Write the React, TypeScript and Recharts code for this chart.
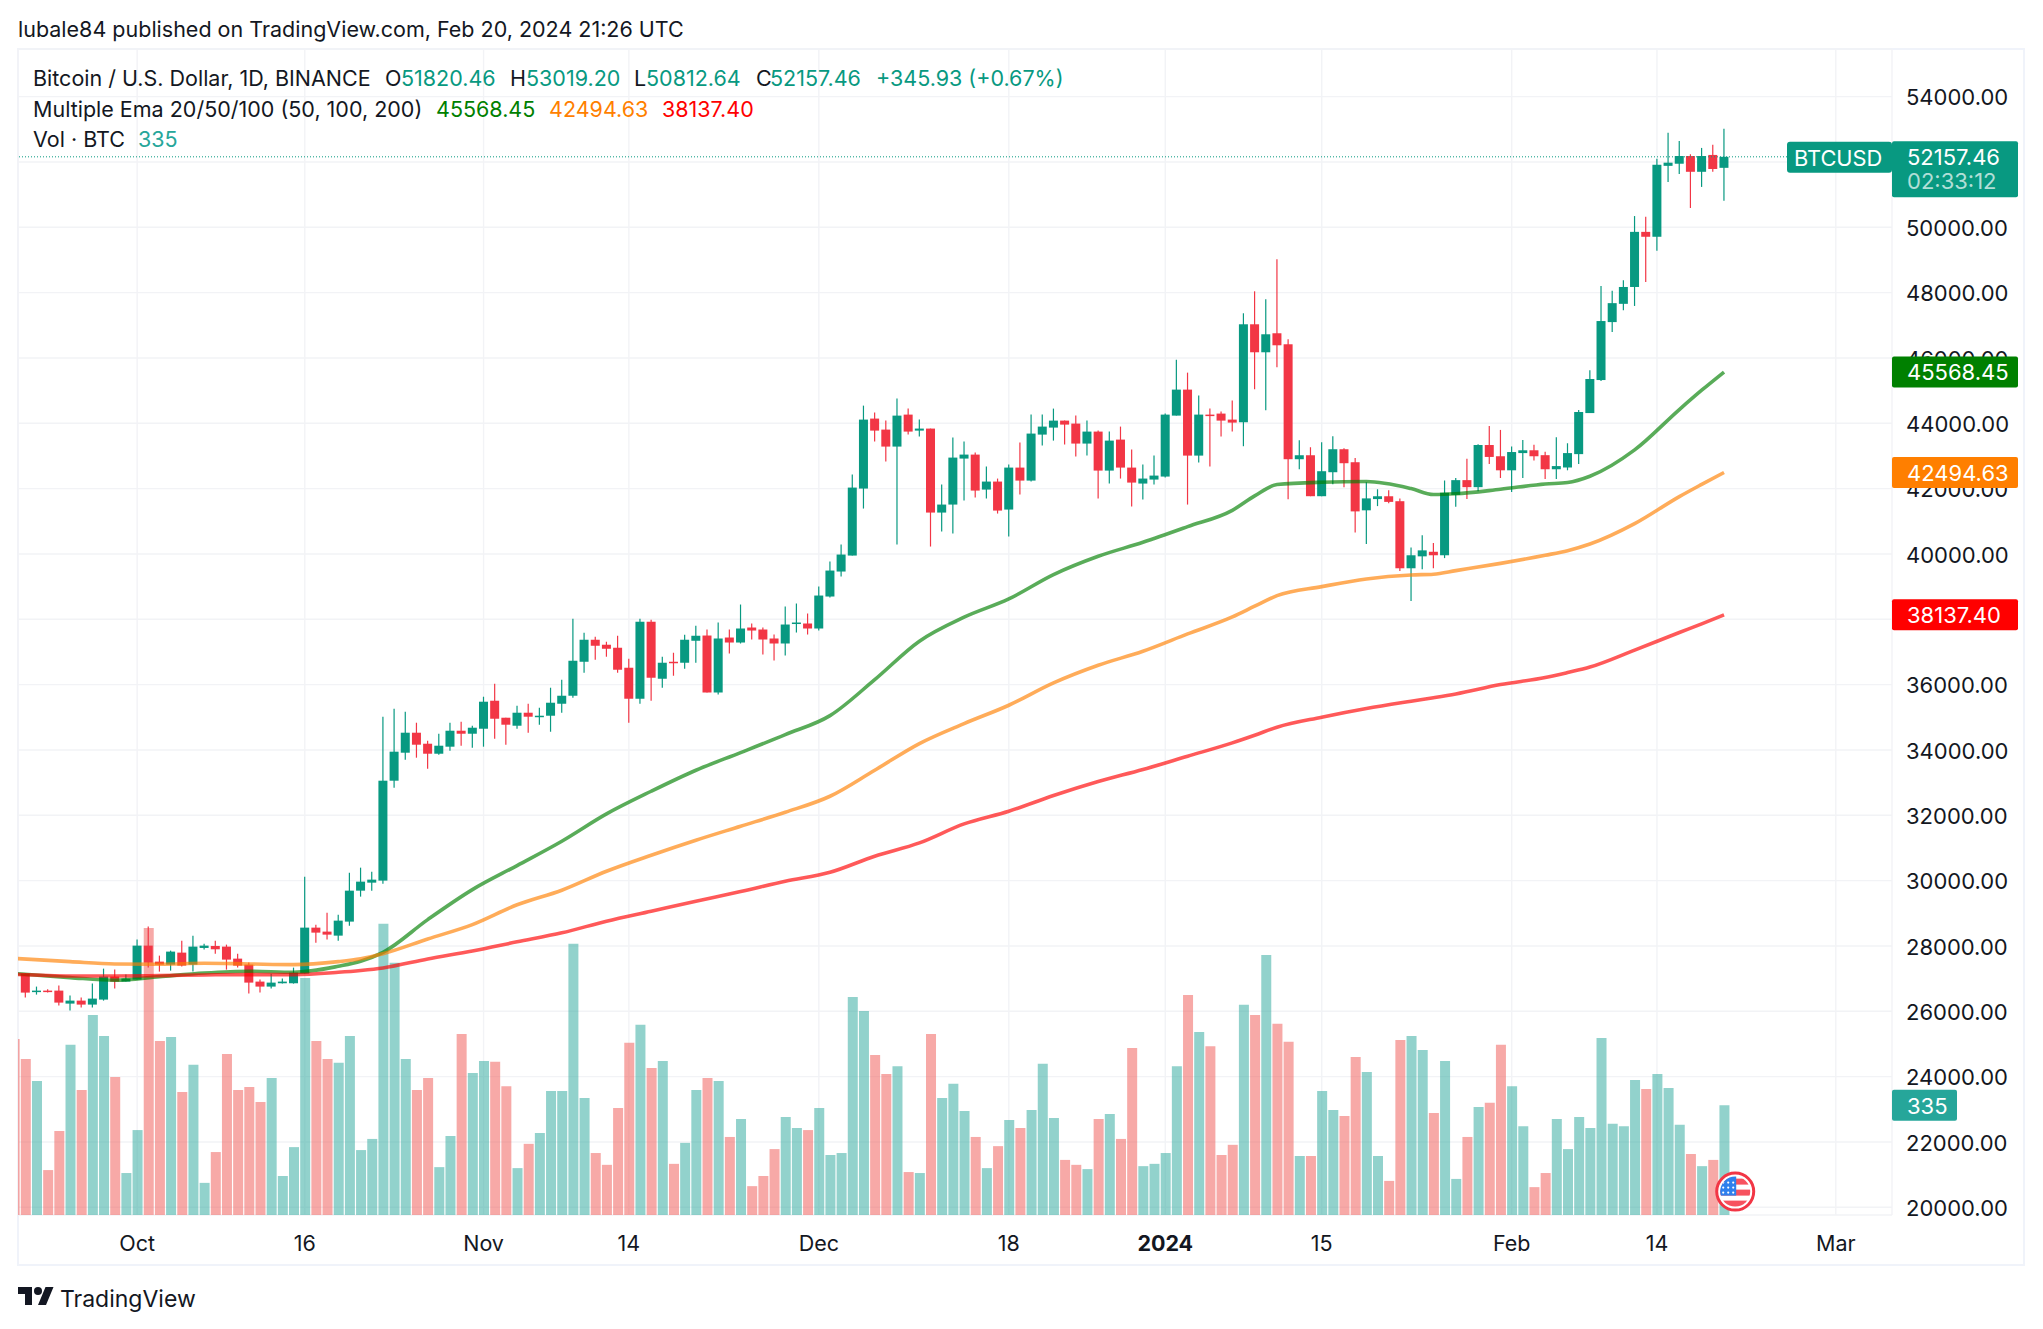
import {
  Bar,
  CartesianGrid,
  Cell,
  ComposedChart,
  Line,
  ReferenceDot,
  ReferenceLine,
  XAxis,
  YAxis,
} from "recharts";

// Daily candles, index 0 = Sep 21 2023, index 152 = Feb 20 2024
const opens = [
  27153, 26603, 26633, 26633, 26235, 26327, 26205, 26358, 27062, 26909,
  26970, 28010, 27520, 27429, 27796, 27429, 27939, 28000, 27980, 27612,
  27429, 26909, 26756, 26858, 26858, 27153, 28561, 28439, 28316, 28745,
  29693, 29938, 30000, 33059, 33916, 34528, 34191, 33885, 34100, 34589,
  34497, 34650, 35507, 34987, 34742, 35140, 35018, 35048, 35415, 35660,
  36700, 37374, 37221, 37129, 36517, 35568, 37925, 36180, 36700, 36670,
  37343, 37503, 35759, 37442, 37289, 37748, 37687, 37412, 37259, 37871,
  37871, 37718, 38697, 39462, 39951, 42002, 44144, 43807, 43287, 44266,
  43776, 43838, 41267, 41512, 42920, 43042, 41971, 42216, 41359, 42644,
  42246, 43654, 43868, 44082, 43991, 43379, 43746, 42552, 43501, 42644,
  42155, 42277, 42369, 44235, 45031, 43011, 44266, 44297, 44113, 44032,
  47031, 46174, 46756, 46419, 42900, 43022, 41768, 42502, 43206, 42808,
  41336, 41680, 41766, 41615, 39562, 39927, 40067, 39960, 41808, 42260,
  42045, 43335, 42991, 42561, 43088, 43174, 43024, 42593, 42647, 43056,
  44313, 45324, 47098, 47657, 48173, 49860, 49710, 51881, 51946, 52182,
  51699, 52215, 51820.46,
];
const closes = [
  26572, 26633, 26592, 26266, 26327, 26205, 26388, 27062, 26909, 27000,
  28010, 27490, 27429, 27827, 27398, 27980, 28010, 27898, 27582, 27398,
  26878, 26756, 26878, 26909, 27184, 28561, 28408, 28347, 28775, 29693,
  29969, 30030, 33059, 33947, 34528, 34161, 33885, 34130, 34589, 34497,
  34681, 35477, 34956, 34773, 35140, 35018, 35048, 35446, 35660, 36731,
  37374, 37190, 37098, 36456, 35568, 37925, 36211, 36670, 36670, 37374,
  37496, 35759, 37412, 37289, 37718, 37656, 37381, 37259, 37840, 37901,
  37718, 38727, 39492, 39982, 42032, 44113, 43776, 43287, 44235, 43746,
  43838, 41267, 41512, 42950, 43042, 41940, 42216, 41328, 42644, 42246,
  43685, 43899, 44082, 43960, 43379, 43746, 42552, 43470, 42644, 42185,
  42308, 42399, 44266, 45031, 43011, 44266, 44235, 44082, 44021, 47031,
  46174, 46725, 46388, 42900, 43022, 41768, 42533, 43206, 42778, 41303,
  41701, 41766, 41594, 39562, 39960, 40110, 39960, 41873, 42260, 42045,
  43335, 42970, 42561, 43120, 43174, 42991, 42593, 42690, 43088, 44346,
  45356, 47130, 47678, 48173, 49860, 49710, 51914, 51978, 52182, 51699,
  52182, 51785, 52157.46,
];
const highs = [
  27160, 26756, 26674, 26786, 26480, 26419, 26847, 27306, 27276, 27123,
  28194, 28592, 27704, 27857, 28163, 28316, 28071, 28163, 28041, 27765,
  27490, 26970, 27153, 27000, 27337, 30122, 28653, 29020, 28959, 30244,
  30397, 30275, 35018, 35262, 35171, 34834, 34283, 34497, 34834, 34865,
  34742, 35630, 36027, 34987, 35354, 35415, 35293, 35905, 36150, 38016,
  37588, 37466, 37313, 37496, 36792, 38016, 37986, 36854, 36976, 37527,
  37802, 37687, 37901, 37687, 38452, 37871, 37748, 37534, 38391, 38483,
  38177, 39003, 39768, 40288, 42430, 44541, 44327, 44082, 44756, 44450,
  44113, 43838, 42124, 43562, 43440, 43103, 42675, 42308, 42736, 43409,
  44266, 44266, 44450, 44082, 44235, 44082, 43776, 43746, 43899, 43195,
  42736, 43011, 44297, 45949, 45551, 44847, 44450, 44358, 44694, 47368,
  48041, 47796, 49020, 46572, 43481, 43267, 43420, 43604, 43237, 42937,
  42196, 41980, 41948, 41701, 40196, 40572, 40336, 42249, 42325, 42916,
  43356, 43915, 43797, 43292, 43486, 43346, 43131, 43571, 43389, 44410,
  45625, 48205, 48054, 48377, 50344, 50323, 52096, 52892, 52645, 52236,
  52430, 52526, 53019.2,
];
const lows = [
  26419, 26511, 26572, 26174, 26021, 26113, 26113, 26327, 26694, 26909,
  26970, 27337, 27215, 27245, 27368, 27215, 27888, 27765, 27276, 27337,
  26541, 26572, 26694, 26847, 26847, 27153, 28102, 28194, 28163, 28622,
  29510, 29693, 29907, 32845, 33702, 33763, 33426, 33855, 33977, 34130,
  34069, 34100, 34344, 34161, 34650, 34528, 34773, 34558, 35140, 35599,
  36364, 36762, 36854, 36364, 34834, 35415, 35507, 35905, 36272, 36486,
  36670, 35759, 35698, 36952, 37259, 37381, 36922, 36738, 36891, 37595,
  37534, 37657, 38666, 39309, 39951, 41390, 43440, 42828, 40288, 43654,
  43593, 40227, 40686, 40625, 41634, 41726, 41696, 41237, 40533, 41818,
  42216, 43317, 43470, 43348, 42981, 43011, 41696, 42155, 42308, 41451,
  41665, 42124, 42338, 44235, 41512, 42797, 42675, 43593, 43746, 43298,
  45042, 44399, 45715, 41676, 42594, 41768, 41768, 42135, 42043, 40658,
  40303, 41465, 41551, 39476, 38562, 39530, 39562, 39873, 41443, 41680,
  41916, 42755, 42325, 41895, 42325, 42862, 42292, 42292, 42561, 42755,
  44313, 45292, 46797, 47463, 47592, 48323, 49280, 51387, 51634, 50591,
  51236, 51699, 50812.64,
];
const volumes = [
  476, 409, 137, 256, 519, 381, 610, 546, 421, 128,
  259, 875, 531, 543, 375, 458, 98, 192, 491, 381,
  390, 345, 418, 119, 207, 723, 531, 476, 464, 546,
  198, 232, 888, 769, 476, 381, 418, 146, 241, 552,
  433, 470, 467, 393, 143, 217, 250, 378, 378, 827,
  357, 189, 153, 326, 525, 580, 448, 470, 156, 220,
  381, 418, 409, 238, 293, 88, 119, 201, 299, 265,
  259, 326, 183, 189, 665, 622, 488, 430, 454, 131,
  128, 552, 357, 400, 317, 238, 143, 210, 290, 265,
  320, 461, 296, 168, 153, 140, 293, 308, 232, 509,
  149, 156, 189, 454, 671, 558, 515, 183, 214, 641,
  610, 793, 583, 528, 180, 180, 378, 320, 302, 482,
  436, 180, 104, 534, 546, 503, 311, 470, 110, 238,
  329, 342, 519, 393, 271, 85, 128, 293, 201, 299,
  265, 540, 278, 271, 412, 384, 430, 387, 275, 186,
  149, 168, 335,
];
// the bar cut off by the left edge of the pane
const clippedVolume = 537;

// EMA lines read at these candle indexes
const emaDays = [
  -1, 4, 8, 12, 16, 20, 24, 28, 30, 32, 36, 40, 44, 48, 52, 56, 60, 64, 68, 72, 76, 80,
  84, 88, 92, 96, 100, 104, 108, 110, 112, 116, 120, 124, 126, 128, 132, 136, 138, 140,
  144, 148, 150, 152,
];
const ema50 = [
  27160, 27031, 26950, 27060, 27170, 27225, 27194, 27378, 27531, 27806, 28806, 29724,
  30461, 31206, 32042, 32736, 33379, 33919, 34470, 35051, 36153, 37330, 38064, 38623,
  39368, 39929, 40357, 40836, 41336, 41778, 42125, 42196, 42217, 42002, 41819, 41841,
  41980, 42142, 42185, 42378, 43185, 44421, 45012, 45568.45,
];
const ema100 = [
  27620, 27521, 27449, 27440, 27470, 27449, 27429, 27521, 27610, 27765, 28214, 28653,
  29260, 29707, 30288, 30778, 31237, 31665, 32093, 32583, 33379, 34195, 34807, 35369,
  36053, 36593, 37022, 37552, 38072, 38400, 38725, 39000, 39235, 39357, 39380, 39490,
  39712, 39960, 40100, 40303, 40927, 41755, 42130, 42494.63,
];
const ema200 = [
  27130, 27082, 27082, 27092, 27113, 27123, 27123, 27194, 27250, 27327, 27602, 27847,
  28126, 28401, 28758, 29064, 29370, 29666, 29982, 30257, 30747, 31155, 31736, 32124,
  32605, 33033, 33401, 33809, 34217, 34450, 34696, 35002, 35267, 35492, 35600, 35716,
  36002, 36216, 36370, 36538, 37057, 37595, 37860, 38137.4,
];

const priceTicks = [
  20000, 22000, 24000, 26000, 28000, 30000, 32000, 34000, 36000, 38000, 40000, 42000, 44000,
  46000, 48000, 50000, 52000, 54000,
];
const dateTicks = [10, 25, 41, 54, 71, 88, 102, 116, 133, 146, 162];
const dateLabels = ["Oct", "16", "Nov", "14", "Dec", "18", "2024", "15", "Feb", "14", "Mar"];

const UP = "#089981";
const DOWN = "#f23645";
const INK = "#131722";
const FONT = "Inter, 'Noto Sans', sans-serif";
const DAY_DOMAIN = [-0.662, 167.03];
const PRICE_DOMAIN = [19764, 55458];
const VOLUME_DOMAIN = [0, 3556];

const rows: any[] = [
  { day: -1, volume: clippedVolume, up: false },
  ...opens.map((open, i) => ({
    day: i,
    open,
    close: closes[i],
    high: highs[i],
    low: lows[i],
    range: [lows[i], highs[i]],
    volume: volumes[i],
    up: closes[i] >= open,
  })),
];
emaDays.forEach((d, k) => {
  const row = rows[d + 1];
  row.ema50 = ema50[k];
  row.ema100 = ema100[k];
  row.ema200 = ema200[k];
});

function Candle(props: any) {
  const { x, y, width, height, payload } = props;
  if (!payload || payload.range === undefined) return null;
  const { open, close, high, low, up } = payload;
  const perUnit = height / (high - low);
  const top = y + (high - Math.max(open, close)) * perUnit;
  const bottom = y + (high - Math.min(open, close)) * perUnit;
  const mid = x + width / 2;
  const color = up ? UP : DOWN;
  return (
    <g>
      <line x1={mid} x2={mid} y1={y} y2={y + height} stroke={color} strokeWidth={1.2} />
      <rect x={x} y={top} width={width} height={Math.max(bottom - top, 1.5)} fill={color} />
    </g>
  );
}

function PriceTag(props: any) {
  const { viewBox, text, sub, fill, w = 126, h = 31 } = props;
  if (!viewBox) return null;
  const left = viewBox.x + viewBox.width;
  const top = viewBox.y - h / 2;
  return (
    <g>
      <rect x={left} y={top} width={w} height={sub ? 56 : h} fill={fill} rx={2} />
      <text x={left + 15} y={top + 16} dy="0.36em" fill="#fff" fontSize={22} fontFamily={FONT}>
        {text}
      </text>
      {sub && (
        <text x={left + 15} y={top + 40} dy="0.36em" fill="#fff" fillOpacity={0.7} fontSize={22} fontFamily={FONT}>
          {sub}
        </text>
      )}
    </g>
  );
}

function SymbolTag(props: any) {
  const { viewBox } = props;
  if (!viewBox) return null;
  const right = viewBox.x + viewBox.width;
  const top = viewBox.y - 15;
  return (
    <g>
      <rect x={right - 105} y={top} width={105} height={31} fill={UP} rx={3} />
      <text x={right - 98} y={top + 16} dy="0.36em" fill="#fff" fontSize={21.8} fontFamily={FONT}>
        BTCUSD
      </text>
    </g>
  );
}

function FlagMark({ cx, cy }: any) {
  return (
    <g>
      <clipPath id="flag-clip">
        <circle cx={cx} cy={cy} r={15} />
      </clipPath>
      <circle cx={cx} cy={cy} r={18.5} fill="#fff" stroke="#f23645" strokeWidth={3} />
      <g clipPath="url(#flag-clip)">
        <rect x={cx - 16} y={cy - 13} width={32} height={6} fill="#f7525f" />
        <rect x={cx - 16} y={cy - 2} width={32} height={6} fill="#f7525f" />
        <rect x={cx - 16} y={cy + 9} width={32} height={8} fill="#f7525f" />
        <rect x={cx - 16} y={cy - 16} width={17} height={20} fill="#2f80ed" />
        {[-12, -7, -2].map((dx) =>
          [-9, -4, 1].map((dy) => <circle key={`${dx}${dy}`} cx={cx + dx} cy={cy + dy} r={1.1} fill="#fff" />)
        )}
      </g>
    </g>
  );
}

function DateTick({ x, y, payload }: any) {
  const label = dateLabels[dateTicks.indexOf(payload.value)];
  const bold = label === "2024";
  return (
    <text
      x={x}
      y={y}
      dy="0.36em"
      textAnchor="middle"
      fill={INK}
      fontSize={21.5}
      fontWeight={bold ? 700 : 400}
      fontFamily={FONT}
    >
      {label}
    </text>
  );
}

function Txt({ x, y, color = INK, size = 21.5, children }: any) {
  return (
    <span
      style={{
        position: "absolute",
        left: x,
        top: y,
        color,
        fontSize: size,
        lineHeight: "24px",
        whiteSpace: "pre",
        fontFamily: FONT,
      }}
    >
      {children}
    </span>
  );
}

export default function App() {
  return (
    <div style={{ position: "relative", width: 2043, height: 1329, margin: -8, background: "#fff", overflow: "hidden" }}>
      <Txt x={18} y={17}>lubale84 published on TradingView.com, Feb 20, 2024 21:26 UTC</Txt>
      <div style={{ position: "absolute", left: 17, top: 48, width: 2004, height: 1214, border: "2px solid #f0f3fa" }} />
      <div style={{ position: "absolute", left: 0, top: 0 }}>
        <ComposedChart
          width={2043}
          height={1329}
          data={rows}
          margin={{ top: 49, right: 18, bottom: 63, left: 18 }}
        >
          <CartesianGrid stroke="#f2f3f6" strokeWidth={1.4} xAxisId="date" yAxisId="price" />
          <XAxis
            xAxisId="date"
            dataKey="day"
            type="number"
            domain={DAY_DOMAIN}
            allowDataOverflow
            ticks={dateTicks}
            interval={0}
            height={51}
            tick={<DateTick />}
            tickLine={false}
            axisLine={false}
            tickMargin={22}
          />
          <XAxis xAxisId="volDate" dataKey="day" type="number" domain={DAY_DOMAIN} allowDataOverflow hide />
          <YAxis
            yAxisId="price"
            orientation="right"
            domain={PRICE_DOMAIN}
            allowDataOverflow
            ticks={priceTicks}
            interval={0}
            width={133}
            tickFormatter={(v: number) => v.toFixed(2)}
            tick={{ fontSize: 22, fill: INK, fontFamily: FONT, dy: 1 }}
            tickLine={false}
            axisLine={false}
            tickMargin={8}
          />
          <YAxis yAxisId="vol" domain={VOLUME_DOMAIN} allowDataOverflow hide />
          <Bar xAxisId="volDate" yAxisId="vol" dataKey="volume" barSize={10} isAnimationActive={false}>
            {rows.map((r) => (
              <Cell key={r.day} fill={r.up ? "#26a69a" : "#ef5350"} fillOpacity={0.5} />
            ))}
          </Bar>
          <Line xAxisId="date" yAxisId="price" type="monotone" dataKey="ema50" stroke="#008000" strokeOpacity={0.65} strokeWidth={3.6} dot={false} connectNulls isAnimationActive={false} />
          <Line xAxisId="date" yAxisId="price" type="monotone" dataKey="ema100" stroke="#ff7f00" strokeOpacity={0.65} strokeWidth={3.6} dot={false} connectNulls isAnimationActive={false} />
          <Line xAxisId="date" yAxisId="price" type="monotone" dataKey="ema200" stroke="#ff0000" strokeOpacity={0.65} strokeWidth={3.6} dot={false} connectNulls isAnimationActive={false} />
          <Bar xAxisId="date" yAxisId="price" dataKey="range" barSize={9} shape={<Candle />} isAnimationActive={false} />
          <ReferenceLine xAxisId="date" yAxisId="price" y={52157.46} stroke={UP} strokeDasharray="1 2" />
          <ReferenceDot xAxisId="date" yAxisId="price" x={153} y={20480} shape={<FlagMark />} ifOverflow="visible" />
        </ComposedChart>
      </div>
      {/* second layer so the price tags sit on top of the axis labels */}
      <div style={{ position: "absolute", left: 0, top: 0, pointerEvents: "none" }}>
        <ComposedChart
          width={2043}
          height={1329}
          data={rows}
          margin={{ top: 49, right: 151, bottom: 114, left: 18 }}
        >
          <XAxis xAxisId="date" dataKey="day" type="number" domain={DAY_DOMAIN} allowDataOverflow hide />
          <YAxis yAxisId="price" domain={PRICE_DOMAIN} allowDataOverflow hide />
          <YAxis yAxisId="vol" domain={VOLUME_DOMAIN} allowDataOverflow hide />
          <ReferenceLine xAxisId="date" yAxisId="price" y={52157.46} stroke="none" label={<SymbolTag />} />
          <ReferenceLine xAxisId="date" yAxisId="price" y={52157.46} stroke="none" label={<PriceTag text="52157.46" sub="02:33:12" fill={UP} />} />
          <ReferenceLine xAxisId="date" yAxisId="price" y={45568.45} stroke="none" label={<PriceTag text="45568.45" fill="#008000" />} />
          <ReferenceLine xAxisId="date" yAxisId="price" y={42494.63} stroke="none" label={<PriceTag text="42494.63" fill="#ff7f00" />} />
          <ReferenceLine xAxisId="date" yAxisId="price" y={38137.4} stroke="none" label={<PriceTag text="38137.40" fill="#ff0000" />} />
          <ReferenceLine xAxisId="date" yAxisId="vol" y={335} stroke="none" label={<PriceTag text="335" fill="#26a69a" w={65} />} />
        </ComposedChart>
      </div>
      <Txt x={33} y={66}>Bitcoin / U.S. Dollar, 1D, BINANCE</Txt>
      <Txt x={385} y={66}>O</Txt>
      <Txt x={401} y={66} color={UP}>51820.46</Txt>
      <Txt x={510} y={66}>H</Txt>
      <Txt x={526} y={66} color={UP}>53019.20</Txt>
      <Txt x={634} y={66}>L</Txt>
      <Txt x={646} y={66} color={UP}>50812.64</Txt>
      <Txt x={756} y={66}>C</Txt>
      <Txt x={770} y={66} color={UP}>52157.46</Txt>
      <Txt x={876} y={66} color={UP}>+345.93 (+0.67%)</Txt>
      <Txt x={33} y={97}>Multiple Ema 20/50/100 (50, 100, 200)</Txt>
      <Txt x={436} y={97} color="#008000">45568.45</Txt>
      <Txt x={549} y={97} color="#ff7f00">42494.63</Txt>
      <Txt x={662} y={97} color="#ff0000">38137.40</Txt>
      <Txt x={33} y={127}>Vol · BTC</Txt>
      <Txt x={138} y={127} color="#26a69a">335</Txt>
      <svg style={{ position: "absolute", left: 18, top: 1283 }} width={36} height={28} viewBox="0 0 36 28">
        <path d="M14 22H7V11H0V4h14v18zM28 22h-8l7.5-18h8L28 22z" fill={INK} />
        <circle cx={20} cy={8} r={4} fill={INK} />
      </svg>
      <Txt x={60} y={1287} size={23}>TradingView</Txt>
    </div>
  );
}
